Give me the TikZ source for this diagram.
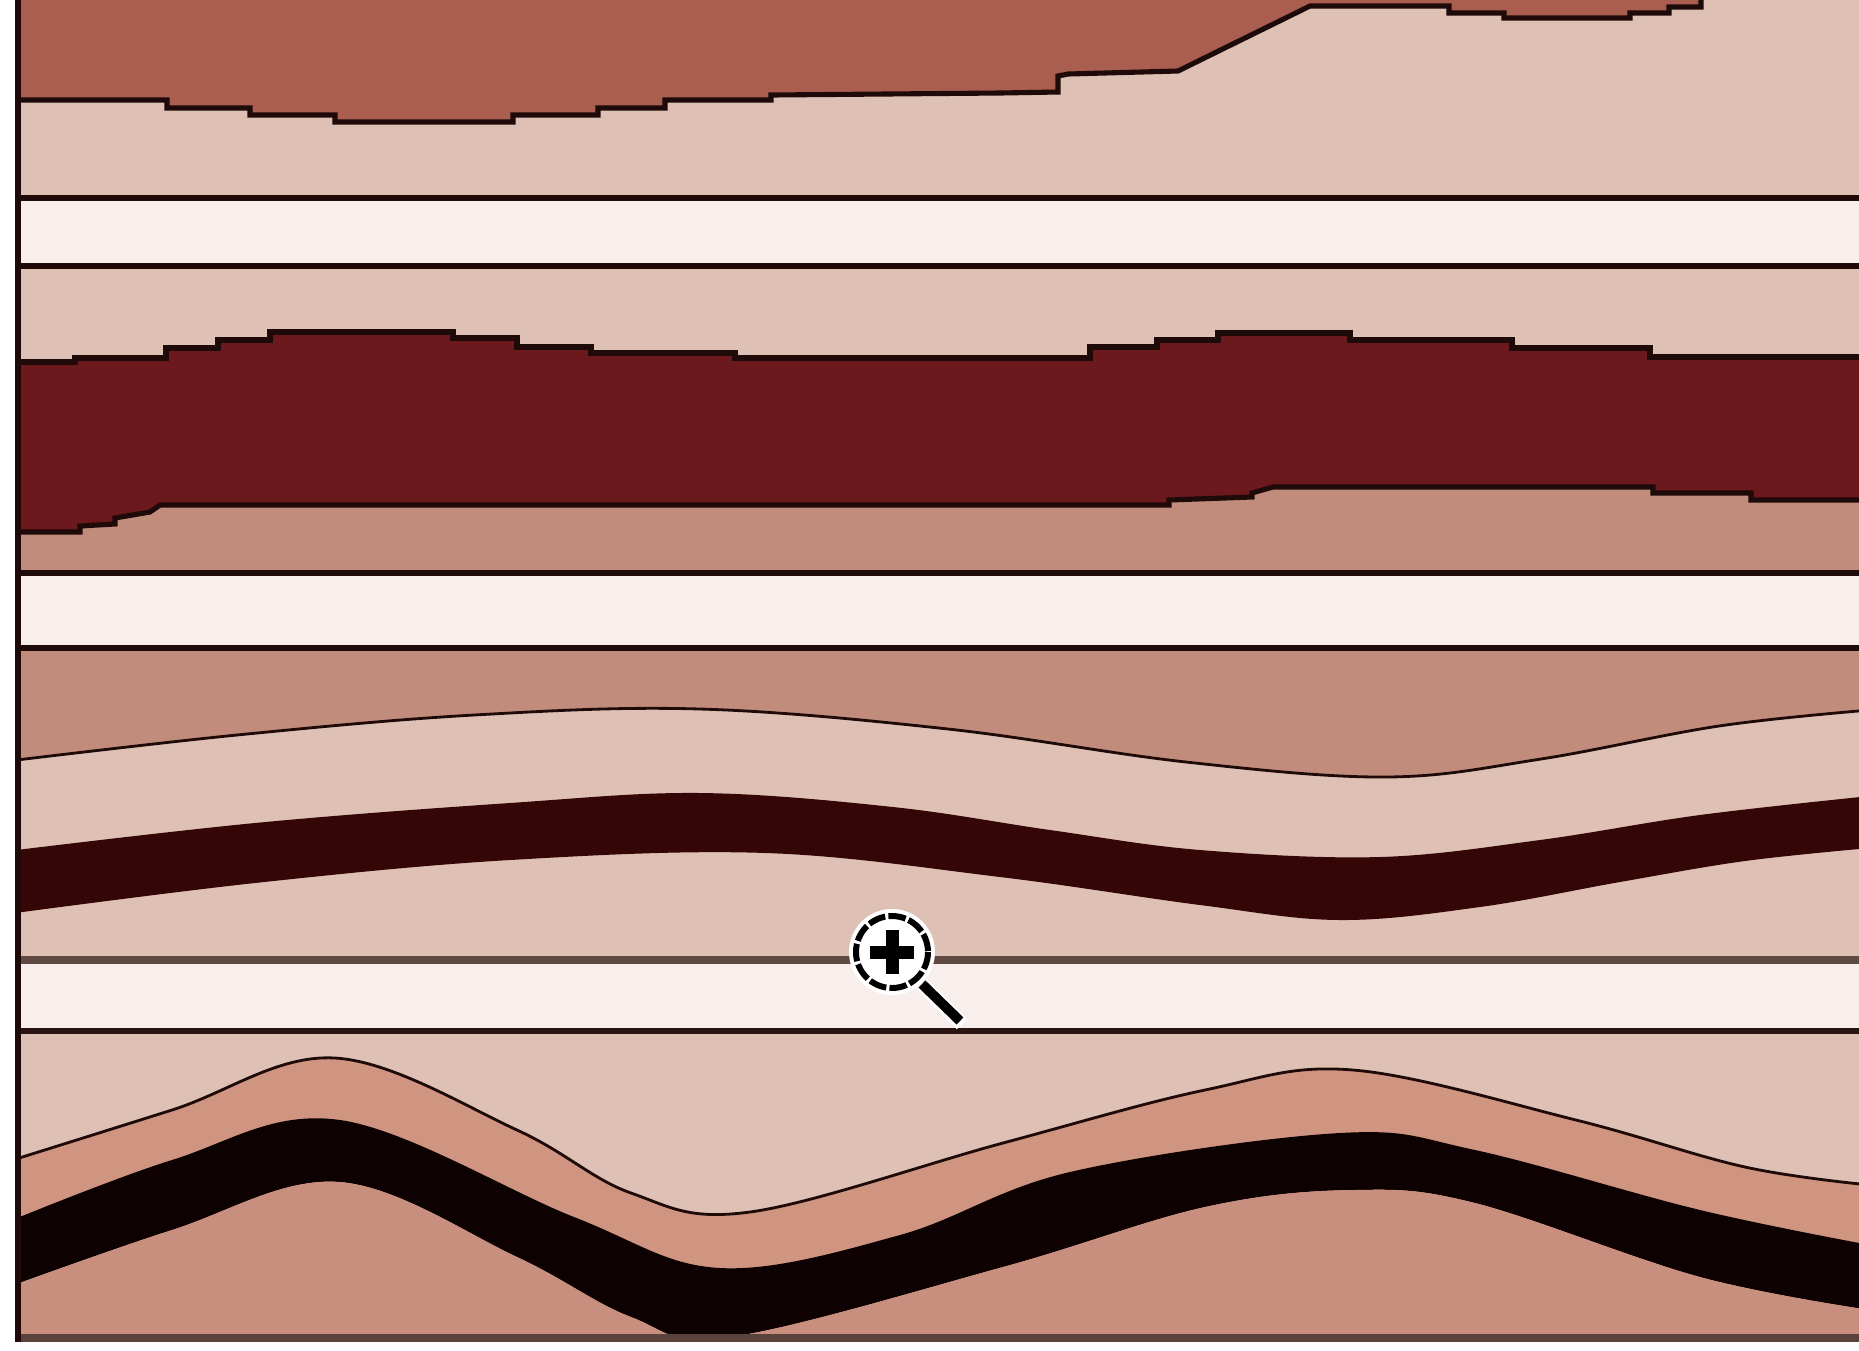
\documentclass[tikz,border=0pt]{standalone}
\begin{document}
\begin{tikzpicture}[x=0.01cm,y=-0.01cm,line join=miter]
\definecolor{terra}{HTML}{A95E4F}
\definecolor{beige}{HTML}{DEC1B4}
\definecolor{paleband}{HTML}{F8EEEB}
\definecolor{maroon}{HTML}{6B191C}
\definecolor{rose}{HTML}{C28C7C}
\definecolor{darkband}{HTML}{340606}
\definecolor{salmon}{HTML}{CF9581}
\definecolor{salmondeep}{HTML}{C88F7E}
\definecolor{blackband}{HTML}{0D0101}
\definecolor{ink}{HTML}{1E0A08}
\definecolor{greyline}{HTML}{5E4943}
\definecolor{brownline}{HTML}{5A433D}
\tikzset{
  edge/.style={ink,line width=1.45pt},
  thinedge/.style={ink,line width=0.8pt},
  smoothplot/.style={smooth,tension=0.6}
}
\useasboundingbox (0,0) rectangle (1859,1350);
\fill[white] (0,0) rectangle (1859,1350);

% ---- upper stratum: terracotta over pale beige, stepped contact
\begin{scope}
\clip (18,0) rectangle (1859,198);
\fill[beige] (18,0) rectangle (1859,198);
\fill[terra] (14,0) -- (14,100) -- (167,100) -- (167,108) -- (250,108) -- (250,115) -- (335,115) -- (335,122) -- (513,122) -- (513,115) -- (598,115) -- (598,108) -- (665,108) -- (665,100) -- (771,100) -- (771,95) -- (1000,93) -- (1058,92) -- (1058,76) -- (1068,74) -- (1178,71) -- (1310,6) -- (1449,6) -- (1449,13) -- (1504,13) -- (1504,18) -- (1630,18) -- (1630,13) -- (1669,13) -- (1669,7) -- (1701,7) -- (1701,0) -- cycle;
\draw[edge] (14,100) -- (167,100) -- (167,108) -- (250,108) -- (250,115) -- (335,115) -- (335,122) -- (513,122) -- (513,115) -- (598,115) -- (598,108) -- (665,108) -- (665,100) -- (771,100) -- (771,95) -- (1000,93) -- (1058,92) -- (1058,76) -- (1068,74) -- (1178,71) -- (1310,6) -- (1449,6) -- (1449,13) -- (1504,13) -- (1504,18) -- (1630,18) -- (1630,13) -- (1669,13) -- (1669,7) -- (1701,7) -- (1701,-5);
\end{scope}
\fill[paleband] (18,198) rectangle (1859,266);

% ---- second stratum: maroon bed with stepped contacts
\begin{scope}
\clip (18,266) rectangle (1859,573);
\fill[rose] (18,266) rectangle (1859,573);
\fill[maroon] (0,266) -- (0,532) -- (80,532) -- (80,526) -- (115,524) -- (115,518) -- (150,512) -- (160,505) -- (1169,505) -- (1169,500) -- (1252,497) -- (1252,493) -- (1273,487) -- (1653,487) -- (1653,493) -- (1751,493) -- (1751,500) -- (1870,500) -- (1870,266) -- cycle;
\fill[beige] (0,266) -- (0,362) -- (75,362) -- (75,358) -- (166,358) -- (166,348) -- (218,348) -- (218,340) -- (270,340) -- (270,332) -- (453,332) -- (453,338) -- (517,338) -- (517,347) -- (591,347) -- (591,353) -- (735,353) -- (735,358) -- (1090,358) -- (1090,347) -- (1157,347) -- (1157,340) -- (1218,340) -- (1218,333) -- (1350,333) -- (1350,340) -- (1512,340) -- (1512,348) -- (1650,348) -- (1650,357) -- (1870,357) -- (1870,266) -- cycle;
\draw[edge] (0,362) -- (75,362) -- (75,358) -- (166,358) -- (166,348) -- (218,348) -- (218,340) -- (270,340) -- (270,332) -- (453,332) -- (453,338) -- (517,338) -- (517,347) -- (591,347) -- (591,353) -- (735,353) -- (735,358) -- (1090,358) -- (1090,347) -- (1157,347) -- (1157,340) -- (1218,340) -- (1218,333) -- (1350,333) -- (1350,340) -- (1512,340) -- (1512,348) -- (1650,348) -- (1650,357) -- (1870,357);
\draw[edge] (0,532) -- (80,532) -- (80,526) -- (115,524) -- (115,518) -- (150,512) -- (160,505) -- (1169,505) -- (1169,500) -- (1252,497) -- (1252,493) -- (1273,487) -- (1653,487) -- (1653,493) -- (1751,493) -- (1751,500) -- (1870,500);
\end{scope}
\fill[paleband] (18,573) rectangle (1859,648);

% ---- third stratum: gentle fold
\begin{scope}
\clip (18,648) rectangle (1859,960);
\fill[beige] (18,648) rectangle (1859,960);
\fill[rose] (0,640) -- plot[smoothplot] coordinates {(0,762) (237,735) (474,715) (700,709) (948,729) (1186,762) (1387,777) (1541,759) (1719,726) (1870,710)} -- (1870,640) -- cycle;
\fill[darkband] plot[smoothplot] coordinates {(0,852) (255,823) (510,803) (700,793) (893,807) (1050,830) (1200,850) (1380,857) (1540,840) (1700,815) (1870,796)}
  -- plot[smoothplot] coordinates {(1870,848) (1745,861) (1620,882) (1480,907) (1340,920) (1200,905) (1000,877) (766,853) (510,860) (255,883) (0,915)} -- cycle;
\draw[thinedge] plot[smoothplot] coordinates {(0,762) (237,735) (474,715) (700,709) (948,729) (1186,762) (1387,777) (1541,759) (1719,726) (1870,710)};
\end{scope}
\fill[paleband] (18,960) rectangle (1859,1031);

% ---- lowest stratum: tight fold
\begin{scope}
\clip (18,1031) rectangle (1859,1338);
\fill[beige] (18,1031) rectangle (1859,1338);
\fill[salmon] plot[smoothplot] coordinates {(0,1164) (172,1110) (335,1058) (517,1130) (631,1193) (750,1212) (1003,1143) (1205,1090) (1353,1070) (1576,1120) (1745,1167) (1870,1185)} -- (1870,1345) -- (0,1345) -- cycle;
\fill[blackband] plot[smoothplot] coordinates {(0,1225) (172,1160) (340,1120) (574,1217) (720,1268) (900,1235) (1070,1172) (1340,1133) (1475,1150) (1700,1210) (1870,1245)}
  -- plot[smoothplot] coordinates {(1870,1310) (1700,1277) (1475,1203) (1353,1190) (1205,1207) (1003,1267) (730,1337) (631,1317) (517,1257) (340,1182) (172,1230) (0,1290)} -- cycle;
\fill[salmondeep] plot[smoothplot] coordinates {(0,1290) (172,1230) (340,1182) (517,1257) (631,1317) (730,1337) (1003,1267) (1205,1207) (1353,1190) (1475,1203) (1700,1277) (1870,1310)} -- (1870,1345) -- (0,1345) -- cycle;
\draw[thinedge] plot[smoothplot] coordinates {(0,1164) (172,1110) (335,1058) (517,1130) (631,1193) (750,1212) (1003,1143) (1205,1090) (1353,1070) (1576,1120) (1745,1167) (1870,1185)};
\end{scope}

% ---- horizontal contacts and frame
\draw[edge] (18,198) -- (1859,198);
\draw[edge] (18,266) -- (1859,266);
\draw[edge] (18,573) -- (1859,573);
\draw[edge] (18,648) -- (1859,648);
\draw[greyline,line width=2.2pt] (18,960) -- (1859,960);
\draw[ink!80!brownline,line width=1.45pt] (18,1031) -- (1859,1031);
\draw[brownline,line width=2.2pt] (15,1338) -- (1859,1338);
\draw[ink,line width=1.5pt] (18,0) -- (18,1342);

% ---- zoom cursor
\coordinate (lens) at (892,952);
\draw[white,line width=4.2pt] (922,984) -- (962,1024);
\draw[black,line width=2.8pt] (922,984) -- (960,1021);
\fill[white] (lens) circle (43);
\draw[black,line width=1.7pt,dash pattern=on 5pt off 0.9pt] (lens) circle (36);
\fill[black] (lens) ++(-22,-6.5) rectangle ++(44,13);
\fill[black] (lens) ++(-6.5,-22) rectangle ++(13,44);
\end{tikzpicture}
\end{document}
